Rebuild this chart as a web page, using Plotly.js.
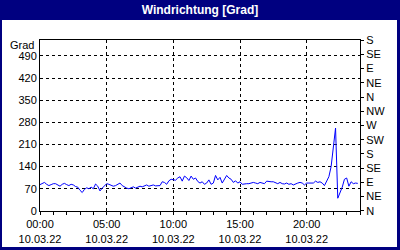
<!DOCTYPE html>
<html><head><meta charset="utf-8">
<script src="https://cdn.plot.ly/plotly-3.0.1.min.js"></script>
<style>
html,body{margin:0;padding:0;background:#000080;width:400px;height:250px;overflow:hidden;}
#bg{position:absolute;left:2px;top:20px;width:395px;height:227px;background:#fff;}
#chart{position:absolute;left:0;top:0;width:400px;height:250px;}
</style></head><body>
<div id="bg"></div><div id="chart"></div>
<script>
// 10-minute samples on 10.03.22, one row per hour
var startTime = '2022-03-10T00:00:00';
var stepMinutes = 10;
var windDir = [
  83, 86, 90, 84, 80, 83,
  86, 86, 82, 78, 84, 87,
  83, 80, 84, 82, 77, 75,
  65, 58, 68, 73, 70, 75,
  70, 85, 78, 63, 72, 78,
  86, 84, 82, 78, 80, 85,
  88, 80, 75, 72, 70, 72,
  76, 72, 74, 78, 76, 80,
  82, 78, 80, 82, 79, 80,
  80, 92, 90, 84, 95, 100,
  98, 97, 104, 108, 94, 110,
  105, 96, 110, 100, 104, 93,
  88, 92, 84, 88, 98, 84,
  88, 112, 98, 106, 88, 100,
  112, 104, 100, 90, 95, 88,
  92, 84, 86, 86, 86, 88,
  90, 88, 86, 90, 87, 86,
  94, 92, 92, 92, 90, 86,
  90, 86, 85, 88, 84, 86,
  82, 86, 88, 90, 88, 82,
  88, 88, 88, 88, 94, 90,
  92, 88, 80, 92, 108, 140,
  210, 262, 40, 55, 75, 100,
  104, 78, 92, 86, 88, 87
];
var leftTicks = [0, 70, 140, 210, 280, 350, 420, 490];
var rightTickVals = [0, 45, 90, 135, 180, 225, 270, 315, 360, 405, 450, 495, 540];
var rightTickText = ['N','NE','E','SE','S','SW','W','NW','N','NE','E','SE','S'];

var t0 = new Date(startTime + 'Z').getTime();
var times = windDir.map(function(_, i){
  var d = new Date(t0 + i * stepMinutes * 60000);
  return d.toISOString().slice(0,19).replace('T',' ');
});

var font = {family: 'Liberation Sans, Arial, sans-serif', size: 11, color: '#000'};
var trace = {x: times, y: windDir, type: 'scatter', mode: 'lines',
  line: {color: '#0000ff', width: 1}, hoverinfo: 'skip'};
var trace2 = {x: [times[0]], y: [0], yaxis: 'y2', mode: 'markers', marker:{opacity:0}, showlegend:false, hoverinfo:'skip'};

var yr = [-0.4, 540.4];
var layout = {
  width: 400, height: 250,
  margin: {l: 40, r: 40, t: 40, b: 39},
  paper_bgcolor: 'rgba(0,0,0,0)', plot_bgcolor: '#fff',
  showlegend: false, font: font,
  title: {text: '<b>Windrichtung [Grad]</b>', x: 0.5, xanchor: 'center', y: 0.96, yanchor: 'middle',
    font: {family: 'Liberation Sans, Arial, sans-serif', size: 12, color: '#fff'}},
  xaxis: {type: 'date', range: ['2022-03-10 00:00', '2022-03-11 00:00'],
    tick0: '2022-03-10 00:00', dtick: 5*3600000, tickformat: '%H:%M<br>%d.%m.%y',
    ticks: 'outside', ticklen: 3, tickcolor: '#000',
    minor: {dtick: 3600000, ticks: 'outside', ticklen: 3, tickcolor: '#000', showgrid: false},
    showgrid: true, gridcolor: '#000', griddash: '3px,3px', gridwidth: 1,
    showline: true, linecolor: '#000', linewidth: 1, mirror: true, zeroline: false,
    tickfont: font},
  yaxis: {range: yr, tickvals: leftTicks, ticks: '', showgrid: true, gridcolor: '#000',
    griddash: '3px,3px', gridwidth: 1, showline: true, linecolor: '#000', linewidth: 1,
    mirror: true, zeroline: false, tickfont: font, fixedrange: true},
  yaxis2: {range: yr, overlaying: 'y', side: 'right', tickvals: rightTickVals,
    ticktext: rightTickText, ticks: 'outside', ticklen: 3, tickcolor: '#000', showgrid: false,
    showline: true, linecolor: '#000', zeroline: false, tickfont: font},
  annotations: [{text: 'Grad', xref: 'paper', yref: 'paper', x: 0, y: 1, xanchor: 'right',
    yanchor: 'middle', xshift: -4, yshift: -5, showarrow: false, font: font}]
};
Plotly.newPlot('chart', [trace, trace2], layout, {staticPlot: true, displayModeBar: false});
</script></body></html>
